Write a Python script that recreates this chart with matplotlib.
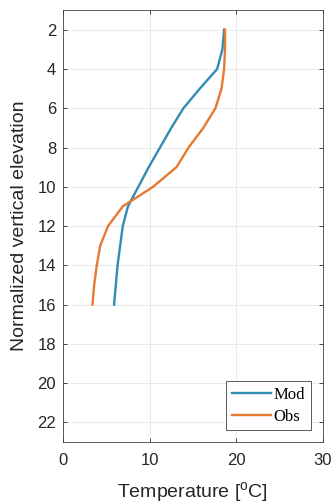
import matplotlib
matplotlib.use("Agg")
import matplotlib.pyplot as plt

# vertical levels and temperature profiles
levels = [2, 3, 4, 5, 6, 7, 8, 9, 10, 11, 12, 13, 14, 15, 16]
mod_temp = [18.6, 18.4, 17.8, 15.8, 13.9, 12.5, 11.2, 9.9, 8.7, 7.5, 6.9, 6.6, 6.3, 6.1, 5.9]
obs_temp = [18.7, 18.7, 18.6, 18.3, 17.6, 16.2, 14.5, 13.1, 10.4, 6.9, 5.2, 4.3, 3.9, 3.6, 3.4]

x_ticks = [0, 10, 20, 30]
y_ticks = [2, 4, 6, 8, 10, 12, 14, 16, 18, 20, 22]

txt_color = "#262626"
plt.rcParams['font.family'] = ['Liberation Sans', 'DejaVu Sans']
plt.rcParams['mathtext.fontset'] = 'custom'
plt.rcParams['mathtext.rm'] = 'Liberation Sans'

fig = plt.figure(figsize=(3.34, 5.04), dpi=100)
ax = fig.add_axes([0.1886, 0.123, 0.778, 0.857])

ax.plot(mod_temp, levels, color="#2F8CB2", lw=1.7, label="Mod")
ax.plot(obs_temp, levels, color="#E6792F", lw=1.7, label="Obs")

ax.set_xlim(0, 30)
ax.set_ylim(23, 1)
ax.set_xticks(x_ticks)
ax.set_yticks(y_ticks)
ax.tick_params(direction="in", top=True, right=True, labelsize=12, colors=txt_color, length=3, width=0.6)
ax.tick_params(axis="x", pad=8)
ax.tick_params(axis="y", pad=5)
ax.grid(True, color="#e6e6e6", lw=0.6)
for s in ax.spines.values():
  s.set_color("#404040")
  s.set_linewidth(0.6)

ax.set_xlabel("Temperature [$^{\\mathrm{o}}$C]", fontsize=14, color=txt_color, labelpad=9)
ax.set_ylabel("Normalized vertical elevation", fontsize=14, color=txt_color, labelpad=7)

leg = ax.legend(loc="lower right", prop={'family': 'Liberation Serif', 'size': 12}, fancybox=False,
                framealpha=1, edgecolor="#404040", handlelength=2.3, handletextpad=0.2,
                borderpad=0.35, labelspacing=0.35, borderaxespad=0.7)
leg.get_frame().set_linewidth(0.6)

fig.savefig("out.png", dpi=100)
